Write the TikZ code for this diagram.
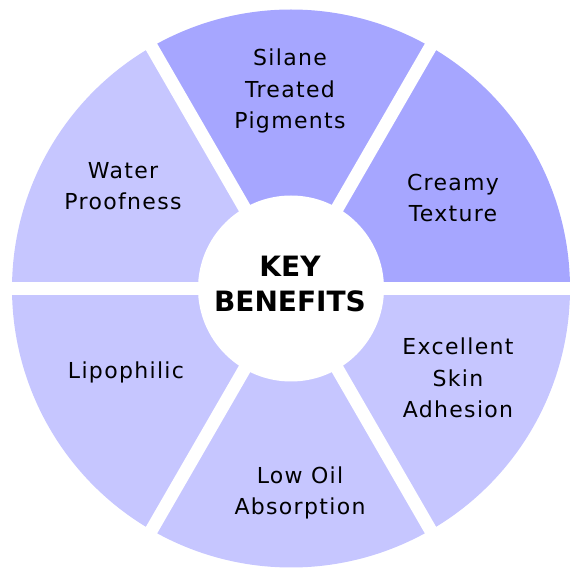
\documentclass[tikz,border=0pt]{standalone}
\usepackage{fontspec}
\setmainfont{DejaVu Sans}
\newfontfamily\lblfont[LetterSpace=6]{DejaVu Sans}
\definecolor{darkp}{RGB}{166,166,255}
\definecolor{lightp}{RGB}{198,198,255}
\begin{document}
\begin{tikzpicture}[x=1pt,y=1pt,
  lbl/.style={align=center,text=black,inner sep=0pt,font=\lblfont\fontsize{22}{31.5}\selectfont},
  keylbl/.style={align=center,text=black,inner sep=0pt,font=\fontsize{28}{35}\selectfont\bfseries},
  gap/.style={white,line width=13pt}]
\useasboundingbox (0,0) rectangle (572,567);
\coordinate (C) at (291,278.5);
\foreach \a/\c in {0/darkp,60/darkp,120/lightp,180/lightp,240/lightp,300/lightp}
  \fill[\c] (C) -- ++(\a:279) arc[start angle=\a,end angle=\a+60,radius=279] -- cycle;
\foreach \a in {0,60,...,300}
  \draw[gap] (C) -- ++(\a:290);
\fill[white] (C) circle (93);
\node[keylbl] (key) at (290,283) {KEY\\BENEFITS};
\node[lbl] (silane) at (290,476) {Silane\\Treated\\Pigments};
\node[lbl] (creamy) at (453,369) {Creamy\\Texture};
\node[lbl] (water) at (123,381) {Water\\Proofness};
\node[lbl] (lipo) at (126,195) {Lipophilic};
\node[lbl] (lowoil) at (300,74) {Low Oil\\Absorption};
\node[lbl] (excel) at (458,189) {Excellent\\Skin\\Adhesion};
\end{tikzpicture}
\end{document}
